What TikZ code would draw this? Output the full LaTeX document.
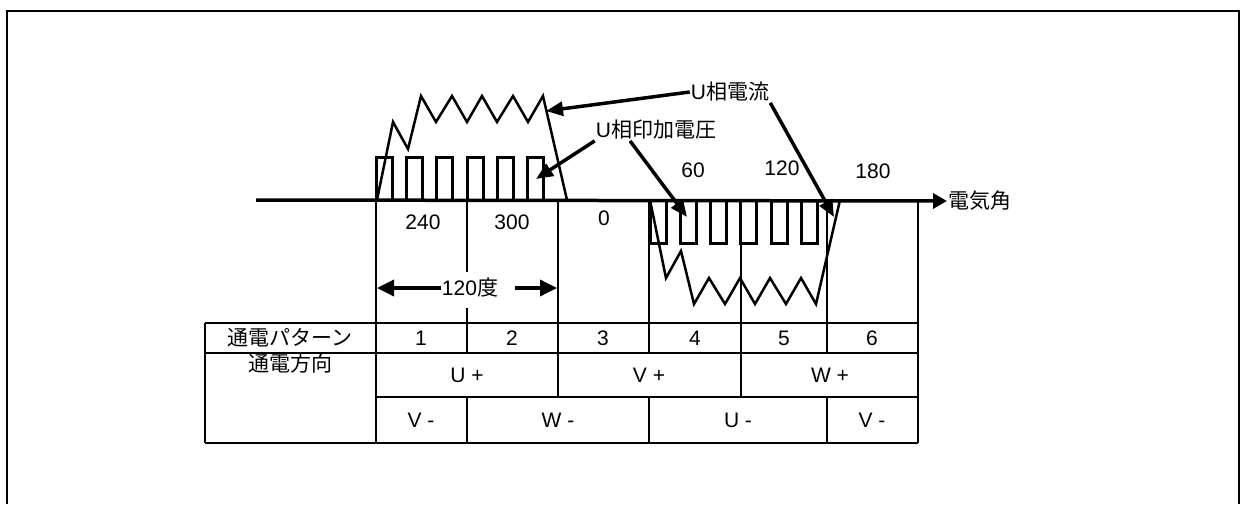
\documentclass[tikz,border=0pt]{standalone}
\usepackage{fontspec}
\setmainfont{Liberation Sans}
\newfontfamily\jpfont{Noto Sans CJK JP}
\usetikzlibrary{arrows.meta}

\begin{document}
\begin{tikzpicture}[x=1pt, y=-1pt,
  lbl/.style={inner sep=1pt, font=\fontsize{21}{24}\selectfont},
  wave/.style={line width=2.5pt, line join=miter},
  pulse/.style={line width=3pt},
  gridline/.style={line width=2pt},
  callout/.style={-{Triangle[length=17pt,width=14pt]}, line width=3.5pt},
  dimarrow/.style={-{Triangle[length=17pt,width=16pt]}, line width=3.5pt},
  axis/.style={-{Triangle[length=14pt,width=15pt]}, line width=3.5pt}
]
  \useasboundingbox (0,0) rectangle (1240,504);
  % frame
  \draw[line width=2pt] (7,504) -- (7,11) -- (1239,11) -- (1239,504);

  % axis
  \node[lbl, anchor=west] (ang) at (947,201) {\jpfont 電気角};
  \coordinate (ax0) at (256,200);
  \draw[axis] (ax0) -- (ang.west);

  % applied voltage pulses
  \foreach \s in {376,406,436,467,497,527}
    \draw[pulse] (\s,200) -- (\s,157) -- ({\s+16},157) -- ({\s+16},200);
  \foreach \s in {650,680,710,740,771,801}
    \draw[pulse] (\s,200) -- (\s,243) -- ({\s+16},243) -- ({\s+16},200);

  % phase current
  \draw[wave] (377,200) -- (393,122) -- (408,149) -- (421,96) -- (436,122) -- (452,96)
    -- (467,122) -- (482,96) -- (497,122) -- (513,96) -- (528,122) -- (543,96) -- (567,200);
  \draw[wave] (650,200) -- (666,278) -- (681,251) -- (694,304) -- (709,278) -- (725,304)
    -- (740,278) -- (755,304) -- (770,278) -- (786,304) -- (801,278) -- (816,304) -- (840,200);

  % angle labels
  \node[lbl] (a240) at (423,222) {240};
  \node[lbl] (a300) at (512,222) {300};
  \node[lbl] (a0) at (604,218) {0};
  \node[lbl] (a60) at (693,170) {60};
  \node[lbl] (a120) at (782,168) {120};
  \node[lbl] (a180) at (873,171) {180};

  % callouts
  \node[lbl] (iu) at (730,92) {U{\jpfont 相電流}};
  \node[lbl] (uv) at (656,130) {U{\jpfont 相印加電圧}};
  \coordinate (ipk) at (546,111);
  \coordinate (ineg) at (834,217);
  \coordinate (vpos) at (536,179);
  \coordinate (vneg) at (687,217);
  \draw[callout] (iu.west) -- (ipk);
  \draw[callout] (iu.south east) -- (ineg);
  \draw[callout] (uv.south west) -- (vpos);
  \draw[callout] ([xshift=-26pt]uv.south) -- (vneg);

  % column lines
  \draw[gridline] (376,200) -- (376,443);
  \draw[line width=1.5pt] (467,200) -- (467,272) (467,308) -- (467,353) (467,397) -- (467,443);
  \draw[gridline] (558,200) -- (558,397);
  \draw[gridline] (649,200) -- (649,353) (649,397) -- (649,443);
  \draw[gridline] (741,200) -- (741,397);
  \draw[gridline] (827,200) -- (827,353) (827,397) -- (827,443);
  \draw[gridline] (918,200) -- (918,443);

  % 120 deg span
  \node[lbl] (deg) at (470,288) {120{\jpfont 度}};
  \coordinate (l120) at (377,288);
  \coordinate (r120) at (557,288);
  \draw[dimarrow] (deg.west) -- (l120);
  \draw[dimarrow] ([xshift=16pt]deg.east) -- (r120);

  % table
  \draw[gridline] (205,323) -- (918,323) (205,353) -- (918,353)
    (376,397) -- (918,397) (205,443) -- (918,443) (205,323) -- (205,443);
  \node[lbl] (pat) at (290,338) {\jpfont 通電パターン};
  \node[lbl] (dir) at (290,364) {\jpfont 通電方向};
  \node[lbl] (p1) at (421,338) {1};
  \node[lbl] (p2) at (512,338) {2};
  \node[lbl] (p3) at (603,338) {3};
  \node[lbl] (p4) at (695,338) {4};
  \node[lbl] (p5) at (784,338) {5};
  \node[lbl] (p6) at (872,338) {6};
  \node[lbl] (uplus) at (467,375) {U +};
  \node[lbl] (vplus) at (649,375) {V +};
  \node[lbl] (wplus) at (830,375) {W +};
  \node[lbl] (vmin1) at (421,420) {V -};
  \node[lbl] (wmin) at (558,420) {W -};
  \node[lbl] (umin) at (738,420) {U -};
  \node[lbl] (vmin2) at (872,420) {V -};
\end{tikzpicture}
\end{document}
